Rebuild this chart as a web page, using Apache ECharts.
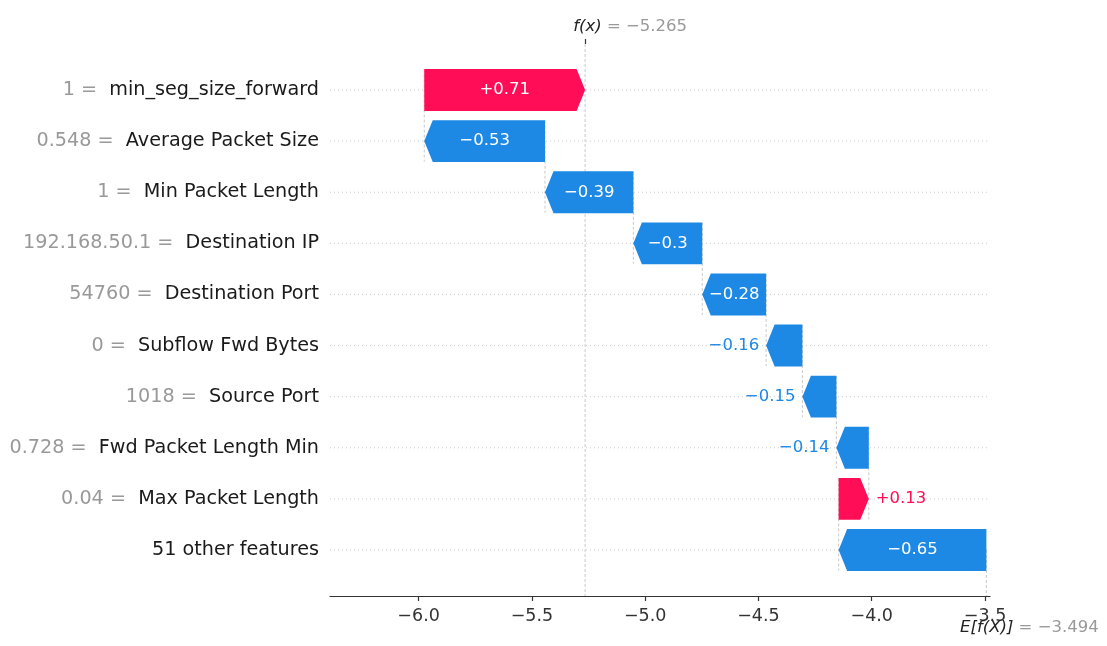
<!DOCTYPE html>
<html>
<head>
<meta charset="utf-8">
<script src="https://cdn.jsdelivr.net/npm/echarts@6/dist/echarts.min.js"></script>
<style>html,body{margin:0;padding:0;background:#fff}#c{width:1107px;height:646px}</style>
</head>
<body>
<div id="c"></div>
<script>
// ---- data (top row first) ----
const featureValues = ["1", "0.548", "1", "192.168.50.1", "54760", "0", "1018", "0.728", "0.04", ""];
const featureNames = ["min_seg_size_forward", "Average Packet Size", "Min Packet Length", "Destination IP",
  "Destination Port", "Subflow Fwd Bytes", "Source Port", "Fwd Packet Length Min", "Max Packet Length", "51 other features"];
const shapValues = [0.71, -0.533, -0.39, -0.304, -0.282, -0.16, -0.15, -0.143, 0.133, -0.652];
const baseValue = -3.494;
const xTicks = [-6.0, -5.5, -5.0, -4.5, -4.0, -3.5];

// ---- derived waterfall positions ----
const n = shapValues.length;
const starts = new Array(n), ends = new Array(n);
let cur = baseValue;
for (let i = n - 1; i >= 0; i--) { starts[i] = cur; ends[i] = cur + shapValues[i]; cur = ends[i]; }
const fx = cur;

const RED = '#ff0d57', BLUE = '#1e88e5';
const FONT = '"DejaVu Sans", sans-serif';
const BAR_FS = 16.5;
const minus = s => s.replace('-', '\u2212');
function fmtShap(v) {
  let s = Math.abs(v).toFixed(2).replace(/0+$/, '').replace(/\.$/, '');
  return (v >= 0 ? '+' : '\u2212') + s;
}
const mctx = document.createElement('canvas').getContext('2d');
mctx.font = BAR_FS + 'px ' + FONT;

const barData = shapValues.map((v, i) => [starts[i], ends[i], i, v]);
const rowData = featureNames.map((_, i) => [i]);
const connData = [];
for (let i = 0; i < n - 1; i++) connData.push([starts[i], i, i + 1]);

const YMIN = -0.9, YMAX = 9.9;

const chart = echarts.init(document.getElementById('c'), null, { renderer: 'canvas' });
chart.setOption({
  animation: false,
  backgroundColor: '#fff',
  grid: { left: 330, right: 117, top: 44, bottom: 50 },
  xAxis: [
    {
      type: 'value', min: -6.391, max: -3.478, position: 'bottom',
      axisLine: { show: true, onZero: false, lineStyle: { color: '#333', width: 1.2 } },
      axisTick: { show: true, customValues: xTicks, length: 5, lineStyle: { color: '#333', width: 1.2 } },
      axisLabel: { customValues: xTicks, formatter: v => minus(v.toFixed(1)), color: '#333',
        fontFamily: FONT, fontSize: 17.5, margin: 11 },
      splitLine: { show: false }
    },
    {
      type: 'value', min: -6.391, max: -3.478, position: 'top',
      axisLine: { show: false, onZero: false },
      axisTick: { show: true, customValues: [fx], length: 5, lineStyle: { color: '#333', width: 1.2 } },
      axisLabel: { customValues: [fx], margin: 9, padding: [0, 0, 0, 90],
        formatter: v => '{f|f(x)}{g| = ' + minus(fx.toFixed(3)) + '}',
        rich: {
          f: { fontFamily: FONT, fontSize: 16.5, fontStyle: 'italic', color: '#222' },
          g: { fontFamily: FONT, fontSize: 16.5, color: '#999' }
        } },
      splitLine: { show: false }
    },
    {
      type: 'value', min: -6.391, max: -3.478, position: 'bottom',
      axisLine: { show: false, onZero: false }, axisTick: { show: false },
      axisLabel: { customValues: [baseValue], margin: 23, padding: [0, 0, 0, 86],
        formatter: v => '{f|E[f(X)]}{g| = ' + minus(baseValue.toFixed(3)) + '}',
        rich: {
          f: { fontFamily: FONT, fontSize: 16.5, fontStyle: 'italic', color: '#222' },
          g: { fontFamily: FONT, fontSize: 16.5, color: '#999' }
        } },
      splitLine: { show: false }
    }
  ],
  yAxis: {
    type: 'value', min: YMIN, max: YMAX, inverse: true,
    axisLine: { show: false, onZero: false }, axisTick: { show: false }, splitLine: { show: false },
    axisLabel: {
      customValues: featureNames.map((_, i) => i), margin: 11,
      formatter: v => {
        const i = Math.round(v);
        const fv = featureValues[i];
        return (fv !== '' ? '{v|' + fv + ' =  }' : '') + '{n|' + featureNames[i] + '}';
      },
      rich: {
        v: { fontFamily: FONT, fontSize: 19.2, color: '#999' },
        n: { fontFamily: FONT, fontSize: 19.2, color: '#1a1a1a' }
      }
    }
  },
  series: [
    { // dotted row guide lines
      type: 'custom', z: 1, silent: true, data: rowData,
      renderItem: (params, api) => {
        const y = api.coord([fx, api.value(0)])[1];
        const cs = params.coordSys;
        return { type: 'line', shape: { x1: cs.x, y1: y, x2: cs.x + cs.width, y2: y },
          style: { stroke: '#cccccc', lineWidth: 1, lineDash: [1, 3] } };
      }
    },
    { // connector lines, f(x) and E[f(X)] lines
      type: 'custom', z: 1, silent: true, data: connData,
      renderItem: (params, api) => {
        const x = api.value(0), r0 = api.value(1), r1 = api.value(2);
        const a = api.coord([x, r0 - 0.4]), b = api.coord([x, r1 + 0.4]);
        const children = [{ type: 'line', shape: { x1: a[0], y1: a[1], x2: b[0], y2: b[1] },
          style: { stroke: '#bbbbbb', lineWidth: 0.8, lineDash: [3, 2] } }];
        if (params.dataIndex === 0) {
          const f0 = api.coord([fx, YMIN]), f1 = api.coord([fx, YMAX]);
          children.push({ type: 'line', shape: { x1: f0[0], y1: f0[1], x2: f1[0], y2: f1[1] },
            style: { stroke: '#bbbbbb', lineWidth: 0.8, lineDash: [3, 2] } });
          const e0 = api.coord([baseValue, n - 1]), e1 = api.coord([baseValue, YMAX]);
          children.push({ type: 'line', shape: { x1: e0[0], y1: e0[1], x2: e1[0], y2: e1[1] },
            style: { stroke: '#bbbbbb', lineWidth: 0.8, lineDash: [3, 2] } });
        }
        return { type: 'group', children };
      }
    },
    { // waterfall arrows
      type: 'custom', z: 3, silent: true, data: barData,
      renderItem: (params, api) => {
        const s = api.value(0), e = api.value(1), r = api.value(2), v = api.value(3);
        const p0 = api.coord([s, r]), p1 = api.coord([e, r]);
        const unit = Math.abs(api.coord([s, 1])[1] - api.coord([s, 0])[1]);
        const hh = unit * 0.41;
        const y = p0[1];
        const dir = e > s ? 1 : -1;
        const w = Math.abs(p1[0] - p0[0]);
        const head = Math.min(8.5, w);
        const tipX = p1[0], baseX = tipX - dir * head;
        const color = v >= 0 ? RED : BLUE;
        const pts = [[p0[0], y - hh], [baseX, y - hh], [tipX, y], [baseX, y + hh], [p0[0], y + hh]];
        const txt = fmtShap(v);
        const tw = mctx.measureText(txt).width;
        let label;
        if (tw + 6 < w) {
          label = { type: 'text', style: { text: txt, x: (p0[0] + p1[0]) / 2, y: y, align: 'center', verticalAlign: 'middle',
            fill: '#fff', fontSize: BAR_FS, fontFamily: FONT } };
        } else {
          label = { type: 'text', style: { text: txt, x: tipX + dir * 7, y: y, align: dir > 0 ? 'left' : 'right',
            verticalAlign: 'middle', fill: color, fontSize: BAR_FS, fontFamily: FONT } };
        }
        return { type: 'group', children: [
          { type: 'polygon', shape: { points: pts }, style: { fill: color } },
          label
        ] };
      }
    }
  ]
});
</script>
</body>
</html>
